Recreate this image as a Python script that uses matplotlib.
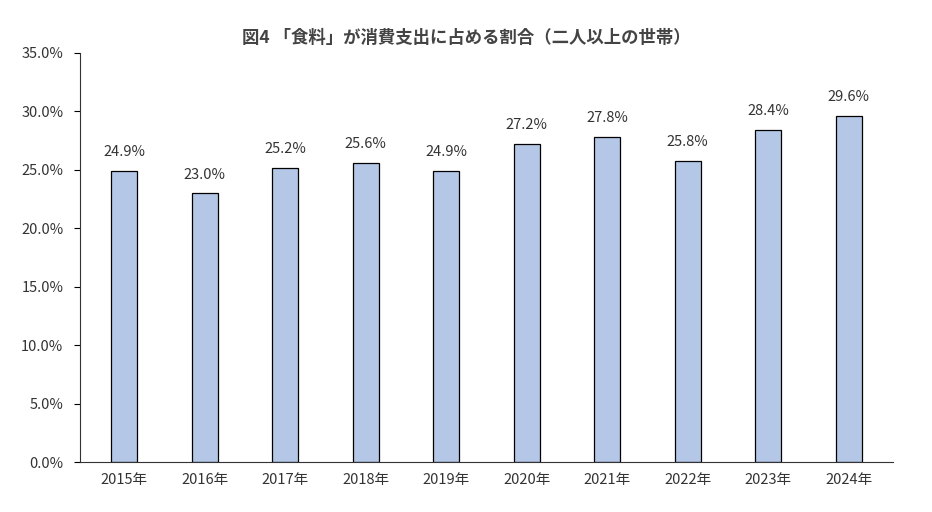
import matplotlib.pyplot as plt
from matplotlib.ticker import FuncFormatter

plt.rcParams['font.family'] = 'Noto Sans CJK JP'

years = ['2015年', '2016年', '2017年', '2018年', '2019年',
         '2020年', '2021年', '2022年', '2023年', '2024年']
share = [24.9, 23.0, 25.2, 25.6, 24.9, 27.2, 27.8, 25.8, 28.4, 29.6]

fig = plt.figure(figsize=(9.32, 5.12), dpi=100)
ax = fig.add_axes([80/932, 50/512, 813/932, 409/512])

x = range(len(years))
ax.bar(x, share, width=0.32, color='#B4C7E7', edgecolor='black', linewidth=0.9)
for i, v in zip(x, share):
    ax.text(i, v + 1.0, f'{v:.1f}%', ha='center', va='bottom', fontsize=10.5, color='#333333')

ax.set_xlim(-0.55, len(years) - 0.45)
ax.set_ylim(0, 35)
ax.set_yticks([i * 5 for i in range(8)])
ax.yaxis.set_major_formatter(FuncFormatter(lambda v, p: f'{v:.1f}%'))
ax.set_xticks(list(x))
ax.set_xticklabels(years)
ax.tick_params(axis='both', labelsize=10.5, colors='#333333', length=0, pad=8)
ax.tick_params(axis='y', length=4, direction='out', color='black')
for s in ['top', 'right']:
    ax.spines[s].set_visible(False)
ax.spines['left'].set_color('#333333')
ax.spines['bottom'].set_color('#333333')

fig.text(0.5, 1 - 38/512, '図4 「食料」が消費支出に占める割合（二人以上の世帯）',
         ha='center', va='center', fontsize=12.5, fontweight='bold', color='#444444')

fig.savefig('out.png', dpi=100)
